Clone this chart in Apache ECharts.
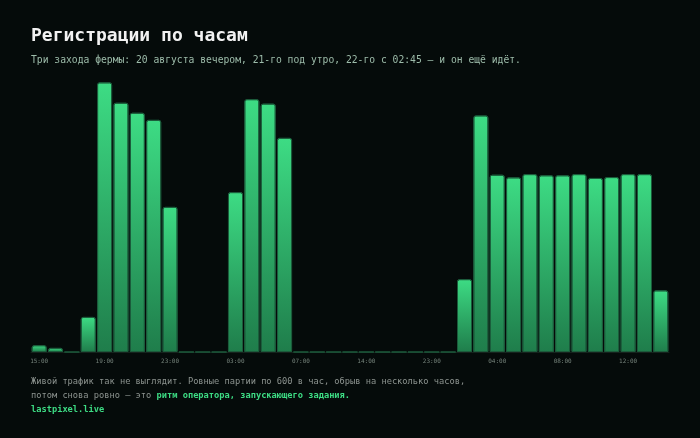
<!DOCTYPE html>
<html lang="ru">
<head>
    <meta charset="UTF-8">
    <title>Регистрации по часам</title>
    <script src="https://cdn.jsdelivr.net/npm/echarts@6/dist/echarts.min.js"></script>
    <style>
        html, body { margin: 0; padding: 0; background: #050b0a; }
        #main { width: 700px; height: 438px; }
    </style>
</head>
<body>
    <div id="main"></div>
    <script>
        // часы (подписи оси) — пропущенные часы в выгрузке просто отсутствуют
        var hours = [
            '15:00', '16:00', '17:00', '18:00', '19:00', '20:00', '21:00', '22:00', '23:00',
            '00:00', '01:00', '02:00', '03:00', '04:00', '05:00', '06:00',
            '07:00', '08:00', '10:00', '12:00', '14:00', '16:00', '19:00', '21:00',
            '23:00', '01:00', '02:00', '03:00', '04:00', '05:00', '06:00', '07:00',
            '08:00', '09:00', '10:00', '11:00', '12:00', '13:00', '14:00'
        ];
        // регистрации за час
        var signups = [
            23, 14, 0, 119, 914, 845, 811, 787, 492,
            0, 0, 0, 542, 857, 842, 726,
            0, 0, 0, 0, 0, 0, 0, 0,
            0, 0, 247, 802, 601, 592, 603, 599,
            599, 603, 590, 593, 603, 603, 209
        ];

        var mono = '"DejaVu Sans Mono", "Liberation Mono", monospace';
        var myChart = echarts.init(document.getElementById('main'));

        var option = {
            backgroundColor: '#050b0a',
            title: {
                text: 'Регистрации по часам',
                subtext: 'Три захода фермы: 20 августа вечером, 21-го под утро, 22-го с 02:45 — и он ещё идёт.',
                left: 31,
                top: 27,
                padding: 0,
                itemGap: 10,
                textStyle: { color: '#f2f2f2', fontFamily: mono, fontSize: 18, fontWeight: 600 },
                subtextStyle: { color: '#9dbcaa', fontFamily: mono, fontSize: 9.7 }
            },
            grid: { left: 31, right: 31, top: 57, bottom: 86 },
            xAxis: {
                type: 'category',
                data: hours,
                axisTick: { show: false },
                axisLine: { lineStyle: { color: '#16221d', width: 1 } },
                axisLabel: {
                    interval: 3,
                    color: '#75837b',
                    fontFamily: mono,
                    fontSize: 6,
                    margin: 6,
                    width: 20,
                    overflow: 'truncate',
                    ellipsis: '…'
                }
            },
            yAxis: {
                type: 'value',
                min: 0,
                max: 1000,
                show: false,
                splitLine: { show: false }
            },
            series: [{
                type: 'bar',
                data: signups,
                barCategoryGap: '8%',
                itemStyle: {
                    borderRadius: [2, 2, 0, 0],
                    borderColor: '#1c5c3c',
                    borderWidth: 1,
                    color: new echarts.graphic.LinearGradient(0, 0, 0, 1, [
                        { offset: 0, color: '#3ddc84' },
                        { offset: 1, color: '#1f7d4b' }
                    ])
                }
            }],
            graphic: [{
                type: 'text',
                left: 31,
                top: 377,
                style: {
                    text: '{g|Живой трафик так не выглядит. Ровные партии по 600 в час, обрыв на несколько часов,}\n' +
                        '{g|потом снова ровно — это }{h|ритм оператора, запускающего задания.}\n' +
                        '{h|lastpixel.live}',
                    rich: {
                        g: { fontFamily: mono, fontSize: 8.7, fill: '#8c938f', lineHeight: 14 },
                        h: { fontFamily: mono, fontSize: 8.7, fill: '#3ddc84', fontWeight: 'bold', lineHeight: 14 }
                    }
                }
            }]
        };

        myChart.setOption(option);
    </script>
</body>
</html>
